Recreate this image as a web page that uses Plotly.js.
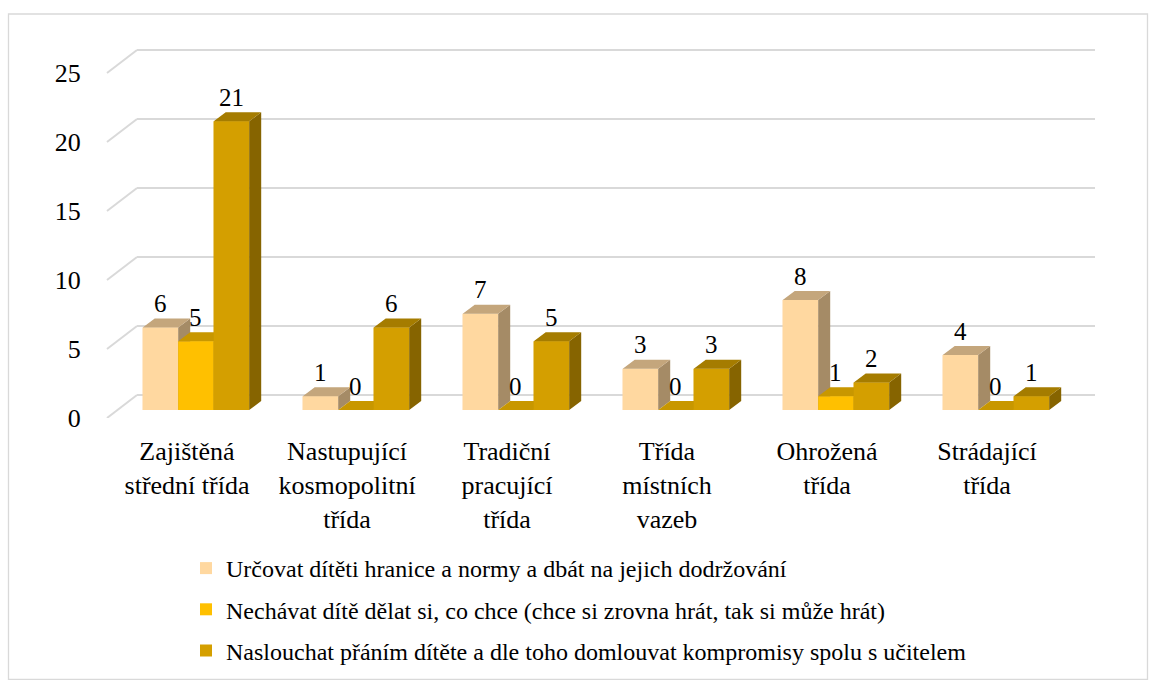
<!DOCTYPE html>
<html>
<head>
<meta charset="utf-8">
<script src="https://cdn.plot.ly/plotly-3.0.1.min.js"></script>
<style>
html,body{margin:0;padding:0;background:#fff;}
#chart{width:1149px;height:680px;}
#chart svg text{font-family:'Liberation Serif','Times New Roman',serif !important;}
</style>
</head>
<body>
<div id="chart"></div>
<script>
// ---- data ----
const categories = ['Zajištěná<br>střední třída', 'Nastupující<br>kosmopolitní<br>třída', 'Tradiční<br>pracující<br>třída', 'Třída<br>místních<br>vazeb', 'Ohrožená<br>třída', 'Strádající<br>třída'];
const seriesNames = [
  'Určovat dítěti hranice a normy a dbát na jejich dodržování',
  'Nechávat dítě dělat si, co chce (chce si zrovna hrát, tak si může hrát)',
  'Naslouchat přáním dítěte a dle toho domlouvat kompromisy spolu s učitelem'
];
const urcovat = [6, 1, 7, 3, 8, 4];
const nechavat = [5, 0, 0, 0, 1, 0];
const naslouchat = [21, 6, 5, 3, 2, 1];
const yTicks = [0, 5, 10, 15, 20, 25];

// ---- styling ----
const frontColors = ['#FFD8A0', '#FFC000', '#D49F00'];
const topColors   = ['#C4A67C', '#C89700', '#A57C00'];
const sideColors  = ['#A58B66', '#A67D00', '#866400'];
const FONT = 'Liberation Serif';

const W = 1149, H = 680;
const px = x => x / W;
const py = y => 1 - y / H;

const PXX = 160;
const PXY = 13.75;
const BW = 35.5 / PXX;
const OFF0 = -44.3 / PXX;
const DX = 12 / PXX;
const DY = 9 / PXY;

const allSeries = [urcovat, nechavat, naslouchat];
const idx = categories.map((c, i) => i);

const traces = [];
traces.push({x: [0.5], y: [0], xaxis: 'x', yaxis: 'y', type: 'scatter', mode: 'markers', marker: {opacity: 0}, hoverinfo: 'skip', showlegend: false});

allSeries.forEach((vals, s) => {
  traces.push({
    type: 'bar', x: idx, y: vals, name: seriesNames[s],
    xaxis: 'x2', yaxis: 'y2',
    width: BW, offset: OFF0 + s * BW,
    marker: {color: frontColors[s], line: {width: 0}},
    legendgroup: 'g' + s,
    hoverinfo: 'y'
  });
});

allSeries.forEach((vals, s) => {
  const fx = [], fy = [], sx = [], sy = [], tx = [], ty = [];
  vals.forEach((v, i) => {
    const L = i + OFF0 + s * BW, R = L + BW;
    fx.push(L, R, R, L, L, null); fy.push(0, 0, v, v, 0, null);
    sx.push(R, R + DX, R + DX, R, R, null); sy.push(0, DY, v + DY, v, 0, null);
    tx.push(L, L + DX, R + DX, R, L, null); ty.push(v, v + DY, v + DY, v, v, null);
  });
  [[fx, fy, frontColors[s]], [sx, sy, sideColors[s]], [tx, ty, topColors[s]]].forEach(([xx, yy, col]) => {
    traces.push({
      type: 'scatter', x: xx, y: yy, xaxis: 'x2', yaxis: 'y2',
      mode: 'none', fill: 'toself', fillcolor: col,
      hoverinfo: 'skip', showlegend: false
    });
  });
});

traces.push({x: [0], y: [0], xaxis: 'x2', yaxis: 'y3', type: 'scatter', mode: 'markers', marker: {opacity: 0}, hoverinfo: 'skip', showlegend: false});

const annotations = [];
allSeries.forEach((vals, s) => {
  vals.forEach((v, i) => {
    annotations.push({
      x: i + OFF0 + s * BW + BW / 2, y: v, xref: 'x2', yref: 'y2',
      text: String(v), showarrow: false, yanchor: 'middle', xanchor: 'center',
      yshift: 24, font: {family: FONT, size: 25, color: '#000000'}
    });
  });
});

const BACK_SCALE = 13.8;
const FRONT_DROP = 23 / BACK_SCALE;
const shapes = yTicks.map(v => ({
  type: 'line', xref: 'paper', yref: 'y',
  x0: px(107), y0: v - FRONT_DROP, x1: px(137), y1: v,
  line: {color: '#D9D9D9', width: 2}, layer: 'below'
}));
shapes.push({
  type: 'rect', xref: 'paper', yref: 'paper',
  x0: px(8.5), x1: px(1147.5), y0: py(679.5), y1: py(14),
  line: {color: '#D9D9D9', width: 1.3}, fillcolor: 'rgba(0,0,0,0)', layer: 'below'
});

const domTop = 40, domBot = 418;
const layout = {
  width: W, height: H, autosize: false,
  margin: {l: 0, r: 0, t: 0, b: 0, pad: 0},
  paper_bgcolor: '#ffffff', plot_bgcolor: 'rgba(0,0,0,0)',
  barmode: 'overlay',
  showlegend: true,
  font: {family: FONT, size: 24, color: '#000000'},
  xaxis: {domain: [px(137), px(1095)], range: [0, 1], visible: false, fixedrange: true},
  yaxis: {
    domain: [py(domBot), py(domTop)], anchor: 'x',
    range: [-(domBot - 395) / BACK_SCALE, (395 - domTop) / BACK_SCALE],
    tickvals: yTicks, showticklabels: false, showgrid: true,
    gridcolor: '#D9D9D9', gridwidth: 2, zeroline: false, showline: false, ticks: '', fixedrange: true
  },
  xaxis2: {
    domain: [px(107), px(1067)], anchor: 'y2', range: [-0.5, 5.5],
    tickvals: idx, ticktext: categories, tickangle: 0,
    tickfont: {family: FONT, size: 26, color: '#000000'},
    ticks: 'outside', ticklen: 10, tickcolor: 'rgba(0,0,0,0)',
    showgrid: false, zeroline: false, showline: false, fixedrange: true
  },
  yaxis2: {
    domain: [py(domBot), py(domTop)], anchor: 'x2',
    range: [-(domBot - 410) / PXY, (410 - domTop) / PXY],
    visible: false, fixedrange: true
  },
  yaxis3: {
    overlaying: 'y2', anchor: 'x2', side: 'left',
    range: [0, (domBot - domTop) / BACK_SCALE],
    tickvals: yTicks, ticktext: yTicks.map(String),
    tickfont: {family: FONT, size: 26, color: '#000000'},
    ticks: 'outside', ticklen: 20, tickcolor: 'rgba(0,0,0,0)',
    showgrid: false, zeroline: false, showline: false, fixedrange: true
  },
  legend: {
    x: px(186), y: py(546), xanchor: 'left', yanchor: 'top',
    orientation: 'v', font: {family: FONT, size: 24, color: '#000000'},
    bgcolor: 'rgba(0,0,0,0)', borderwidth: 0, tracegroupgap: 7,
    traceorder: 'grouped'
  },
  annotations: annotations,
  shapes: shapes
};

const draw = () => Plotly.newPlot('chart', traces, layout, {displayModeBar: false});
if (document.fonts && document.fonts.load) {
  document.fonts.load('20px "Liberation Serif"').then(draw, draw);
} else {
  draw();
}
</script>
</body>
</html>
